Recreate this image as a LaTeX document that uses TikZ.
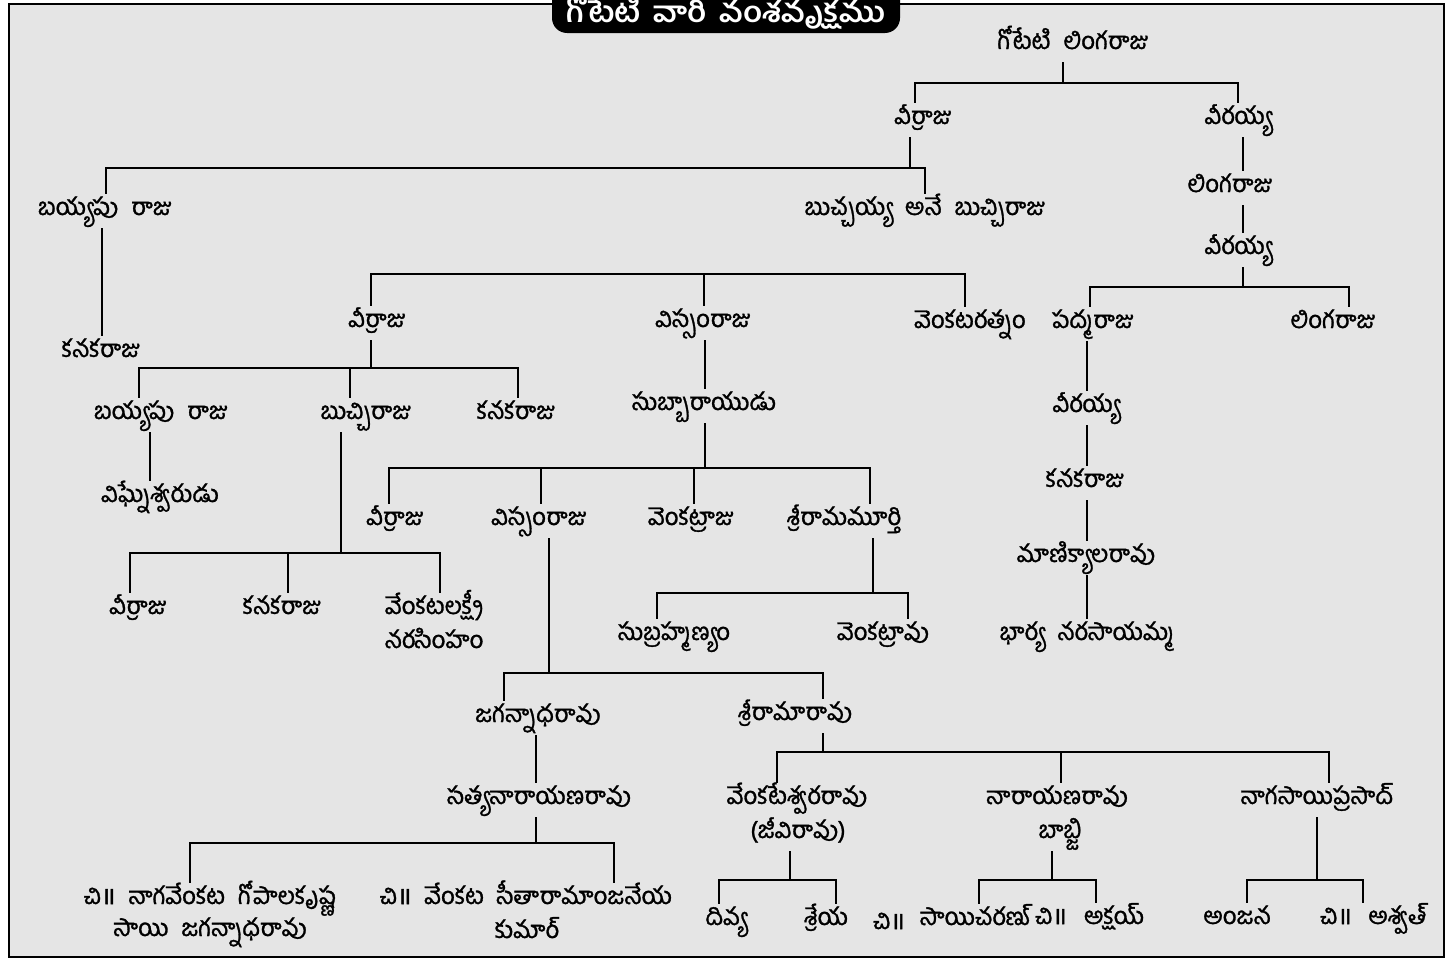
\documentclass[tikz,border=0pt]{standalone}
\usepackage{fontspec}
\newfontfamily\tel[Script=Telugu, WordSpace=2.2, FakeBold=1.2]{Hind Guntur}
\newfontfamily\telt[Script=Telugu, WordSpace=1.6, FakeStretch=1.08]{Hind Guntur}
\newfontfamily\dev[Script=Devanagari, FakeBold=2]{Noto Sans}
\newcommand{\chimark}{చి{\dev ॥}}
\begin{document}
\begin{tikzpicture}[x=1pt,y=-1pt,
  tn/.style={font=\tel\fontsize{24}{28}\selectfont, inner sep=0pt, text height=21pt, text depth=13pt, yshift=-3pt, anchor=center},
  ln/.style={line width=2.6pt, line join=miter},
  ttl/.style={font=\telt\bfseries\fontsize{29}{32}\selectfont, text=white, inner sep=0pt}]
\useasboundingbox (0,0) rectangle (1453,961);
\fill[white] (0,0) rectangle (1453,961);
\draw[line width=2.6pt, fill={rgb,255:red,229;green,229;blue,229}] (9,4) rectangle (1444,957);
\fill[black, rounded corners=15pt] (552,-30) rectangle (900,33);
\node[ttl] (title) at (726,11) {గోటేటి వారి వంశవృక్షము};

% nodes
\node[tn] (root) at (1073,42) {గోటేటి లింగరాజు};
\node[tn] (a1) at (923,117) {వీర్రాజు};
\node[tn] (b1) at (1238,117) {వీరయ్య};
\node[tn] (a2) at (105,208) {బయ్యపు రాజు};
\node[tn] (a3) at (925,208) {బుచ్చయ్య అనే బుచ్చిరాజు};
\node[tn] (a4) at (101,350) {కనకరాజు};
\node[tn] (b2) at (1230,185) {లింగరాజు};
\node[tn] (b3) at (1238,247) {వీరయ్య};
\node[tn] (b4) at (1093,321) {పద్మరాజు};
\node[tn] (b5) at (1333,321) {లింగరాజు};
\node[tn] (b6) at (1086,405) {వీరయ్య};
\node[tn] (b7) at (1085,480) {కనకరాజు};
\node[tn] (b8) at (1086,555) {మాణిక్యాలరావు};
\node[tn] (b9) at (1087,633) {భార్య నరసాయమ్మ};
\node[tn] (c1) at (377,320) {వీర్రాజు};
\node[tn] (c2) at (703,320) {విస్సంరాజు};
\node[tn] (c3) at (970,321) {వెంకటరత్నం};
\node[tn] (d1) at (161,412) {బయ్యపు రాజు};
\node[tn] (d2) at (366,412) {బుచ్చిరాజు};
\node[tn] (d3) at (516,412) {కనకరాజు};
\node[tn] (e1) at (160,495) {విఘ్నేశ్వరుడు};
\node[tn] (f1) at (138,607) {వీర్రాజు};
\node[tn] (f2) at (282,607) {కనకరాజు};
\node[tn] (f3) at (434,607) {వేంకటలక్ష్మీ};
\node[tn] (f3b) at (434,641) {నరసింహం};
\node[tn] (g1) at (704,403) {సుబ్బారాయుడు};
\node[tn] (h1) at (395,518) {వీర్రాజు};
\node[tn] (h2) at (539,518) {విస్సంరాజు};
\node[tn] (h3) at (691,518) {వెంకట్రాజు};
\node[tn] (h4) at (844,518) {శ్రీరామమూర్తి};
\node[tn] (i1) at (674,633) {సుబ్రహ్మణ్యం};
\node[tn] (i2) at (883,633) {వెంకట్రావు};
\node[tn] (j1) at (538,715) {జగన్నాధరావు};
\node[tn] (j2) at (795,713) {శ్రీరామారావు};
\node[tn] (k1) at (539,797) {సత్యనారాయణరావు};
\node[tn] (l1) at (210,897) {\chimark\ నాగవేంకట గోపాలకృష్ణ};
\node[tn] (l1b) at (210,929) {సాయి జగన్నాధరావు};
\node[tn] (l2) at (526,897) {\chimark\ వేంకట సీతారామాంజనేయ};
\node[tn] (l2b) at (527,931) {కుమార్};
\node[tn] (m1) at (797,797) {వేంకటేశ్వరరావు};
\node[tn] (m1b) at (798,831) {(జీవిరావు)};
\node[tn] (m2) at (1057,797) {నారాయణరావు};
\node[tn] (m2b) at (1060,831) {బాబ్జి};
\node[tn] (m3) at (1317,797) {నాగసాయిప్రసాద్};
\node[tn] (n1) at (726,918) {దివ్య};
\node[tn] (n2) at (826,918) {శ్రేయ};
\node[tn] (o0) at (889,922) {\chimark};
\node[tn] (o1) at (975,918) {సాయిచరణ్};
\node[tn] (o2c) at (1051,917) {\chimark};
\node[tn] (o2) at (1114,917) {అక్షయ్};
\node[tn] (p1) at (1237,917) {అంజన};
\node[tn] (p2c) at (1336,917) {\chimark};
\node[tn] (p2) at (1397,917) {అశ్వత్};

% connectors
\draw[ln] (1063,0 |- root.south) -- (1063,83);
\draw[ln] (915,0 |- a1.north) |- (1238,83) -- (1238,0 |- b1.north);

\draw[ln] (910,0 |- a1.south) -- (910,168);
\draw[ln] (106,0 |- a2.north) |- (925,168) -- (925,0 |- a3.north);
\draw[ln] (102,0 |- a2.south) -- (102,0 |- a4.north);

\draw[ln] (1243,0 |- b1.south) -- (1243,0 |- b2.north);
\draw[ln] (1243,0 |- b2.south) -- (1243,0 |- b3.north);
\draw[ln] (1243,0 |- b3.south) -- (1243,287);
\draw[ln] (1090,0 |- b4.north) |- (1349,287) -- (1349,0 |- b5.north);
\draw[ln] (1087,0 |- b4.south) -- (1087,0 |- b6.north);
\draw[ln] (1087,0 |- b6.south) -- (1087,0 |- b7.north);
\draw[ln] (1087,0 |- b7.south) -- (1087,0 |- b8.north);
\draw[ln] (1087,0 |- b8.south) -- (1087,0 |- b9.north);

\coordinate (barL) at (371,274);
\coordinate (barR) at (965,274);
\draw[ln] (371,0 |- c1.north) -- (barL) -- (barR) -- (965,0 |- c3.north);
\draw[ln] (704,274) -- (704,0 |- c2.north);

\draw[ln] (371,0 |- c1.south) -- (371,368);
\draw[ln] (139,0 |- d1.north) |- (518,368) -- (518,0 |- d3.north);
\draw[ln] (350,368) -- (350,0 |- d2.north);
\draw[ln] (150,0 |- d1.south) -- (150,0 |- e1.north);

\draw[ln] (341,0 |- d2.south) -- (341,553);
\draw[ln] (130,0 |- f1.north) |- (440,553) -- (440,0 |- f3.north);
\draw[ln] (288,553) -- (288,0 |- f2.north);

\draw[ln] (705,0 |- c2.south) -- (705,0 |- g1.north);
\draw[ln] (705,0 |- g1.south) -- (705,468);
\draw[ln] (389,0 |- h1.north) |- (870,468) -- (870,0 |- h4.north);
\draw[ln] (541,468) -- (541,0 |- h2.north);
\draw[ln] (694,468) -- (694,0 |- h3.north);

\draw[ln] (873,0 |- h4.south) -- (873,593);
\draw[ln] (657,0 |- i1.north) |- (908,593) -- (908,0 |- i2.north);

\draw[ln] (549,0 |- h2.south) -- (549,673);
\draw[ln] (504,0 |- j1.north) |- (823,673) -- (823,0 |- j2.north);
\draw[ln] (536,0 |- j1.south) -- (536,0 |- k1.north);
\draw[ln] (536,0 |- k1.south) -- (536,843);
\draw[ln] (190,0 |- l1.north) |- (614,843) -- (614,0 |- l2.north);

\draw[ln] (823,0 |- j2.south) -- (823,752);
\draw[ln] (777,0 |- m1.north) |- (1329,752) -- (1329,0 |- m3.north);
\draw[ln] (1061,752) -- (1061,0 |- m2.north);

\draw[ln] (790,0 |- m1b.south) -- (790,880);
\draw[ln] (719,0 |- n1.north) |- (836,880) -- (836,0 |- n2.north);
\draw[ln] (1052,0 |- m2b.south) -- (1052,880);
\draw[ln] (979,0 |- o1.north) |- (1096,880) -- (1096,0 |- o2.north);
\draw[ln] (1317,0 |- m3.south) -- (1317,880);
\draw[ln] (1247,0 |- p1.north) |- (1363,880) -- (1363,0 |- p2.north);
\end{tikzpicture}
\end{document}
